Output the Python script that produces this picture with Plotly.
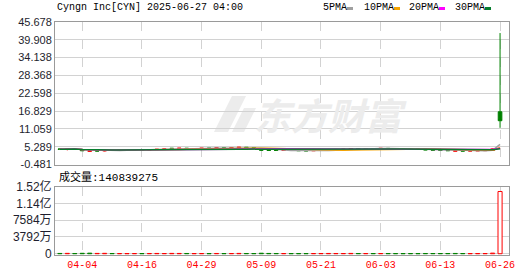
import plotly.graph_objects as go
import pandas as pd

# ---------------- data ----------------
dates = ["04-01","04-02","04-03","04-04","04-07","04-08","04-09","04-10","04-11","04-14",
         "04-15","04-16","04-17","04-21","04-22","04-23","04-24","04-25","04-28","04-29",
         "04-30","05-01","05-02","05-05","05-06","05-07","05-08","05-09","05-12","05-13",
         "05-14","05-15","05-16","05-19","05-20","05-21","05-22","05-23","05-27","05-28",
         "05-29","05-30","06-02","06-03","06-04","06-05","06-06","06-09","06-10","06-11",
         "06-12","06-13","06-16","06-17","06-18","06-20","06-23","06-24","06-25","06-26"]

opens  = [4.55,4.45,4.60,4.30,3.80,3.95,3.90,4.20,4.10,4.15,
          4.20,4.25,4.20,4.35,4.45,4.80,4.70,4.80,4.65,4.70,
          4.80,4.75,4.90,4.80,4.95,5.10,5.00,4.40,4.15,4.10,
          4.05,4.10,4.05,4.00,3.95,4.05,4.15,4.30,4.40,4.50,
          4.70,4.60,4.70,4.65,4.75,4.65,4.60,4.55,4.50,4.45,
          4.25,4.15,4.10,3.85,3.95,3.90,3.95,4.00,4.05,16.60]
highs  = [4.70,4.75,4.65,4.35,3.95,4.05,4.25,4.25,4.20,4.25,
          4.30,4.35,4.40,4.50,4.60,4.85,4.85,4.85,4.75,4.85,
          4.85,4.95,4.95,5.00,5.15,5.15,5.05,4.45,4.25,4.20,
          4.15,4.20,4.15,4.10,4.10,4.20,4.35,4.45,4.55,4.75,
          4.75,4.75,4.75,4.80,4.80,4.70,4.65,4.60,4.55,4.50,
          4.30,4.25,4.15,4.00,4.05,4.00,4.05,4.10,4.75,42.10]
lows   = [4.40,4.10,4.40,3.95,3.60,3.85,3.80,4.05,4.00,4.05,
          4.10,4.15,4.15,4.30,4.40,4.65,4.65,4.60,4.55,4.65,
          4.70,4.70,4.75,4.75,4.90,4.95,4.85,4.10,4.05,4.00,
          3.95,4.00,3.95,3.90,3.90,4.00,4.10,4.25,4.35,4.45,
          4.55,4.55,4.60,4.60,4.60,4.55,4.50,4.45,4.40,4.20,
          4.10,4.05,3.95,3.80,3.85,3.85,3.90,3.95,4.00,11.40]
closes = [4.45,4.60,4.45,4.00,3.90,3.90,4.20,4.10,4.15,4.20,
          4.25,4.20,4.35,4.45,4.55,4.70,4.80,4.65,4.70,4.80,
          4.75,4.90,4.80,4.95,5.10,5.00,4.90,4.15,4.10,4.05,
          4.10,4.05,4.00,3.95,4.05,4.15,4.30,4.40,4.50,4.70,
          4.60,4.70,4.65,4.75,4.65,4.60,4.55,4.50,4.45,4.25,
          4.15,4.10,4.00,3.95,3.90,3.95,4.00,4.05,4.60,13.70]
volumes = [620000,810000,540000,930000,1250000,700000,880000,520000,410000,390000,
           450000,370000,520000,610000,480000,730000,650000,560000,420000,470000,
           380000,560000,440000,500000,690000,540000,470000,1120000,640000,520000,
           430000,390000,360000,410000,450000,520000,600000,540000,480000,720000,
           510000,460000,430000,490000,450000,400000,380000,370000,350000,520000,
           480000,430000,510000,640000,450000,390000,420000,440000,1350000,140839275]

price_ticks = [-0.481, 5.289, 11.059, 16.829, 22.598, 28.368, 34.138, 39.908, 45.678]
price_tick_text = ["-0.481","5.289","11.059","16.829","22.598","28.368","34.138","39.908","45.678"]
vol_ticks = [0, 37920000, 75840000, 113760000, 151680000]
vol_tick_text = ["0", "3792万", "7584万", "1.14亿", "1.52亿"]
x_label_dates = ["04-04","04-16","04-29","05-09","05-21","06-03","06-13","06-26"]

ma_periods = [5, 10, 20, 30]
ma_names = ["5PMA", "10PMA", "20PMA", "30PMA"]
ma_colors = ["#a0a0a0", "#f5a300", "#ff00ff", "#067d2e"]

RED = "#ff0000"
GREEN = "#008000"

# ---------------- figure ----------------
W, H = 530, 276
ML, MR, MT, MB = 55, 21, 22, 21
PW, PH = W - ML - MR, H - MT - MB

def px_x(x):
    return (x - ML) / PW

def px_y(y):
    return (H - MB - y) / PH

top_dom = [px_y(164.5), 1.0]
vol_dom = [0.0, px_y(186.7)]

fig = go.Figure()

fig.add_trace(go.Candlestick(
    x=dates, open=opens, high=highs, low=lows, close=closes,
    increasing=dict(line=dict(color=RED, width=1), fillcolor="white"),
    decreasing=dict(line=dict(color=GREEN, width=1), fillcolor=GREEN),
    whiskerwidth=0, showlegend=False, xaxis="x", yaxis="y", hoverinfo="skip"))

s = pd.Series(closes)
for p, name, col in zip(ma_periods, ma_names, ma_colors):
    ma = s.rolling(p, min_periods=1).mean()
    fig.add_trace(go.Scatter(x=dates, y=ma, mode="lines", name=name,
                             line=dict(color=col, width=1.5), showlegend=False,
                             xaxis="x", yaxis="y", hoverinfo="skip"))

vol_line = []
vol_fill = []
for i in range(len(closes)):
    prev = closes[i - 1] if i > 0 else opens[i]
    if closes[i] >= prev:
        vol_line.append(RED); vol_fill.append("white")
    else:
        vol_line.append(GREEN); vol_fill.append(GREEN)

fig.add_trace(go.Bar(x=dates, y=volumes, width=0.55,
                     marker=dict(color=vol_fill, line=dict(color=vol_line, width=1)),
                     showlegend=False, xaxis="x2", yaxis="y2", hoverinfo="skip"))

frame = "#9a9a9a"
grid = "#d2d2d2"
label_family = "Liberation Sans, Noto Sans CJK SC"
tick_font = dict(family=label_family, size=11, color="#1e1e2e")
mono = "Liberation Mono, Noto Sans CJK SC, monospace"
xr = [-0.65, 60.2]
vol_top = 151680000
vol_pad = vol_top * 1.3 / (px_y(186.7) * PH)   # ~1.3 px below zero

fig.update_layout(
    width=W, height=H, margin=dict(l=ML, r=MR, t=MT, b=MB, autoexpand=False),
    paper_bgcolor="white", plot_bgcolor="white", showlegend=False,
    xaxis=dict(type="category", range=xr, domain=[0, 1], anchor="y", automargin=False,
               tickvals=x_label_dates, showticklabels=False, ticks="",
               showgrid=True, gridcolor=grid, griddash="dash", gridwidth=1,
               showline=True, mirror=True, linecolor=frame, linewidth=1,
               rangeslider=dict(visible=False), fixedrange=True),
    yaxis=dict(domain=top_dom, range=[-0.481, 45.678], anchor="x", automargin=False,
               tickvals=price_ticks, ticktext=price_tick_text, ticks="",
               tickfont=tick_font, showgrid=True, gridcolor=grid, gridwidth=1,
               zeroline=False, showline=True, mirror=True, linecolor=frame, linewidth=1),
    xaxis2=dict(type="category", range=xr, domain=[0, 1], anchor="y2", automargin=False,
                tickvals=x_label_dates, ticktext=x_label_dates, ticks="",
                tickfont=dict(family=mono, size=10, color=RED),
                showgrid=True, gridcolor=grid, griddash="dash", gridwidth=1,
                showline=True, mirror=True, linecolor=frame, linewidth=1),
    yaxis2=dict(domain=vol_dom, range=[-vol_pad, vol_top], anchor="x2", automargin=False,
                tickvals=vol_ticks, ticktext=vol_tick_text, ticks="",
                tickfont=dict(family=label_family, size=12, color="#1e1e2e"),
                showgrid=True, gridcolor=grid, gridwidth=1, zeroline=False,
                showline=True, mirror=True, linecolor=frame, linewidth=1),
)

# watermark
fig.add_annotation(text="<b><i>东方财富</i></b>", xref="paper", yref="paper",
                   x=px_x(330), y=px_y(114), xanchor="center", yanchor="middle",
                   showarrow=False, font=dict(family="Noto Sans CJK SC", size=37, color="#ececec"))
logo_paths = [
    [(214, 132), (232, 96), (246, 96), (228, 132)],
    [(232, 132), (244, 108), (256, 108), (244, 132)],
]
for pts in logo_paths:
    d = "M " + " L ".join(f"{px_x(a):.4f},{px_y(b):.4f}" for a, b in pts) + " Z"
    fig.add_shape(type="path", path=d, xref="paper", yref="paper",
                  fillcolor="#ececec", line=dict(width=0), layer="below")

# title
fig.add_annotation(text="Cyngn Inc[CYN] 2025-06-27 04:00", xref="paper", yref="paper",
                   x=0, y=px_y(8), xanchor="left", yanchor="middle", showarrow=False,
                   font=dict(family=mono, size=10, color="#000000"))

# MA legend
legend_x = [321, 362, 407, 453]
for lx, name, col in zip(legend_x, ma_names, ma_colors):
    fig.add_annotation(text=name, xref="paper", yref="paper", x=px_x(lx), y=px_y(8),
                       xanchor="left", yanchor="middle", showarrow=False,
                       font=dict(family=mono, size=10, color="#000000"))
    sx = lx + len(name) * 6 + 2
    fig.add_shape(type="rect", xref="paper", yref="paper",
                  x0=px_x(sx), x1=px_x(sx + 6), y0=px_y(10), y1=px_y(7),
                  fillcolor=col, line=dict(width=0))

# volume label
fig.add_annotation(text="成交量:" + str(volumes[-1]), xref="paper", yref="paper",
                   x=px_x(57), y=px_y(177), xanchor="left", yanchor="middle", showarrow=False,
                   font=dict(family=mono, size=11, color="#000000"))

fig.write_html("out.html")
